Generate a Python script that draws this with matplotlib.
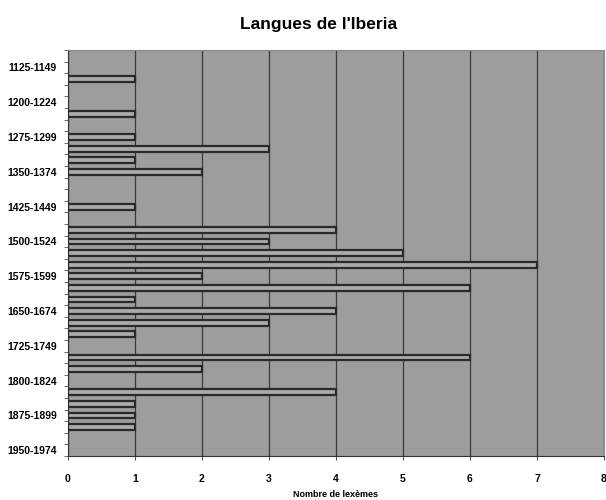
import matplotlib
matplotlib.use("Agg")
import matplotlib.pyplot as plt
import numpy as np

# 25-year periods, top to bottom
periods = [f"{y}-{y + 24}" for y in range(1100, 1975, 25)]

# number of lexemes per period (0 = no bar)
lexemes = [0, 0, 1, 0, 0, 1, 0, 1, 3, 1, 2, 0, 0, 1, 0, 4, 3, 5, 7, 2,
           6, 1, 4, 3, 1, 0, 6, 2, 0, 4, 1, 1, 1, 0, 0]

x_ticks = list(range(0, 9))

plt.rcParams['font.family'] = ['Liberation Sans', 'DejaVu Sans']

fig = plt.figure(figsize=(6.06, 5.0), dpi=100)
ax = fig.add_axes([0.1122, 0.088, 0.8845, 0.812])

n = len(periods)
pos = np.arange(n)
vals = np.array(lexemes, dtype=float)
mask = vals > 0

ax.set_facecolor("#9d9d9d")
ax.barh(pos[mask], vals[mask], height=0.5, color="#ababab",
        edgecolor="#2a2a2a", linewidth=1.6, zorder=3)

ax.set_xlim(0, 8)
ax.set_ylim(n - 0.5, -0.5)
ax.set_xticks(x_ticks)
ax.set_xticklabels([str(t) for t in x_ticks], fontsize=7.5, fontweight="bold")
ax.grid(axis="x", color="#3a3a3a", linewidth=0.9, zorder=1)

# labels every 3rd period, counted from the bottom
lab_idx = [i for i in range(n) if (n - 1 - i) % 3 == 0]
ax.set_yticks(lab_idx)
ax.set_yticklabels([periods[i] for i in lab_idx], fontsize=7.5, fontweight="bold")
ax.set_yticks(np.arange(-0.5, n, 1), minor=True)
ax.tick_params(axis="y", which="major", length=0, pad=8)
ax.tick_params(axis="y", which="minor", length=3, color="#555555")
ax.tick_params(axis="x", length=3, color="#555555", pad=10)

for side in ["top", "right"]:
    ax.spines[side].set_color("#8a8a8a")
    ax.spines[side].set_linestyle((0, (2, 1)))
for side in ["left", "bottom"]:
    ax.spines[side].set_color("#333333")

ax.set_xlabel("Nombre de lexèmes", fontsize=6.5, fontweight="bold", labelpad=4)
fig.suptitle("Langues de l'Iberia", fontsize=12.5, fontweight="bold",
             x=0.525, y=0.965)

fig.savefig("out.png", dpi=100)
